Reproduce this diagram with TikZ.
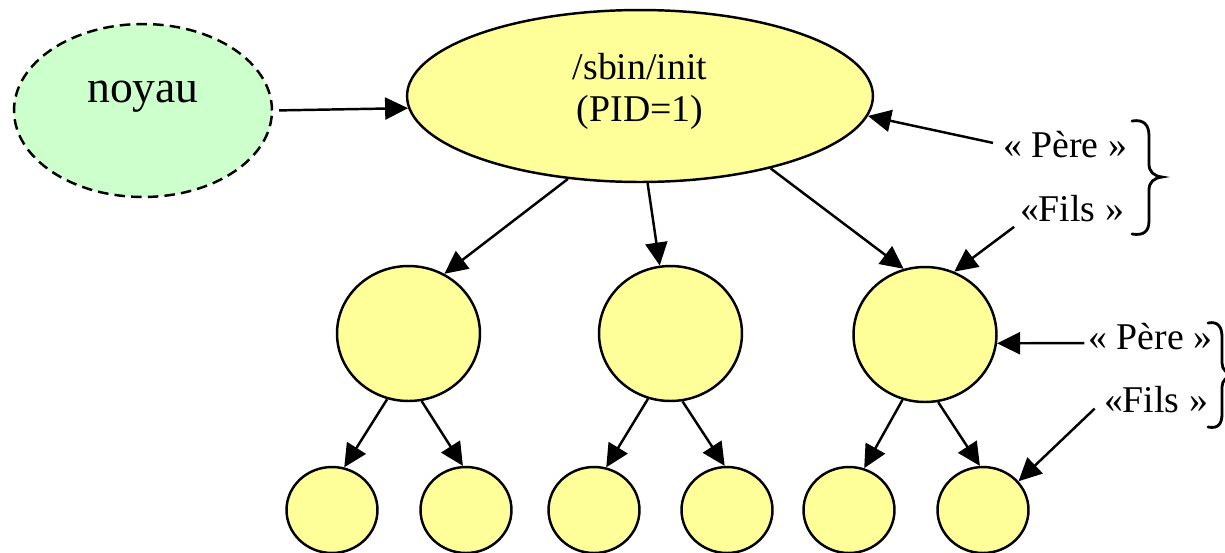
\documentclass[tikz,border=0pt]{standalone}
\usepackage{fontspec}
\setmainfont{Liberation Serif}
\usetikzlibrary{shapes.geometric,arrows.meta}
\definecolor{procyellow}{RGB}{255,255,153}
\definecolor{kernelgreen}{RGB}{204,255,204}
\begin{document}
\begin{tikzpicture}[x=0.02cm,y=-0.02cm,
  proc/.style={ellipse,draw,line width=1.4pt,fill=procyellow,inner sep=0pt},
  bigproc/.style={proc,minimum width=2.86cm,minimum height=2.70cm},
  smallproc/.style={proc,minimum width=1.82cm,minimum height=1.72cm},
  arr/.style={line width=1.4pt,-{Triangle[length=0.46cm,width=0.44cm]}},
  lbl/.style={font=\fontsize{21.5}{23.8}\selectfont,inner sep=0pt},
  bracestyle/.style={line width=1.6pt,line cap=round}]
\useasboundingbox (0,0) rectangle (1225,552);
\clip (0,0) rectangle (1225,552);
% kernel
\node[ellipse,draw,dash pattern=on 6pt off 3.5pt,line width=1.4pt,fill=kernelgreen,
      minimum width=5.16cm,minimum height=3.46cm,inner sep=0pt,
      label={[font=\fontsize{26}{28}\selectfont,yshift=0.28cm]center:noyau}] (noyau) at (143,110.5) {};
% init
\node[proc,minimum width=9.32cm,minimum height=3.44cm,
      label={[lbl,align=center,yshift=0.09cm]center:/sbin/init\\(PID=1)}] (init) at (640,96) {};
% children
\node[bigproc] (c1) at (408.5,333.5) {};
\node[bigproc] (c2) at (670.5,333.5) {};
\node[bigproc] (c3) at (925,334.5) {};
% grandchildren
\node[smallproc] (b1) at (332,510) {};
\node[smallproc] (b2) at (466,510) {};
\node[smallproc] (b3) at (594,510) {};
\node[smallproc] (b4) at (727,510) {};
\node[smallproc] (b5) at (849,510) {};
\node[smallproc] (b6) at (983,510) {};
% labels
\node[lbl] (pere1) at (1065,145) {« Père »};
\node[lbl] (fils1) at (1072,209) {«Fils »};
\node[lbl] (pere2) at (1150.5,337) {« Père »};
\node[lbl] (fils2) at (1156,400) {«Fils »};
% connectors
\draw[arr,shorten <=0.12cm] (noyau.east) -- (init.183);
\draw[arr] (init.229) -- (c1.59);
\draw[arr] (init.275) -- (c2.99);
\draw[arr] (init.331) -- (c3.108);
\draw[arr] (c1.252) -- (b1.74);
\draw[arr] (c1.281) -- (b2.94);
\draw[arr] (c2.251) -- (b3.74);
\draw[arr] (c2.280) -- (b4.93);
\draw[arr] (c3.251) -- (b5.70);
\draw[arr] (c3.281) -- (b6.94);
\draw[arr,shorten <=0.2cm] (pere1.west) -- (init.355);
\draw[arr,shorten <=0.14cm] (fils1.south west) -- (c3.65);
\draw[arr,shorten <=0.08cm] ([yshift=-0.12cm]pere2.west) -- (c3.353);
\draw[arr,shorten <=0.25cm] (fils2.west) -- (b6.39);
% braces
\draw[bracestyle] (1132,121) .. controls (1144,119) and (1149,125) .. (1149,136)
  -- (1149,164) .. controls (1149,172) and (1154,176) .. (1162,177)
  .. controls (1154,178) and (1149,182) .. (1149,190)
  -- (1149,221) .. controls (1149,231) and (1144,236) .. (1132,234);
\draw[bracestyle] (1208,323) .. controls (1218,321) and (1222,327) .. (1222,337)
  -- (1222,363) .. controls (1222,370) and (1227,374) .. (1235,375)
  .. controls (1227,376) and (1222,380) .. (1222,387)
  -- (1222,414) .. controls (1222,424) and (1218,429) .. (1208,427);
\end{tikzpicture}
\end{document}
